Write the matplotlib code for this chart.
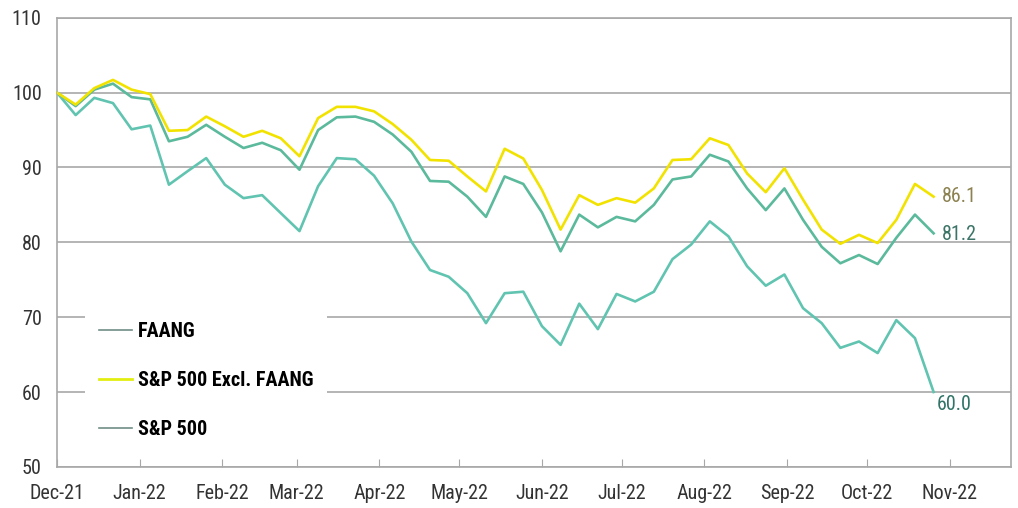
import numpy as np
import matplotlib
matplotlib.use("Agg")
import matplotlib.pyplot as plt
from matplotlib.lines import Line2D

plt.rcParams['font.family'] = ['Roboto Condensed', 'Archivo Narrow', 'DejaVu Sans']

start = np.datetime64('2021-12-01')
n_weeks = 48
dates = start + np.arange(n_weeks) * np.timedelta64(7, 'D')

sp_ex_faang = [100.0, 98.4, 100.6, 101.7, 100.4, 99.8, 94.9, 95.0, 96.8, 95.5,
               94.1, 94.9, 93.9, 91.5, 96.6, 98.1, 98.1, 97.5, 95.8, 93.7,
               91.0, 90.9, 88.8, 86.8, 92.5, 91.2, 87.0, 81.7, 86.3, 85.0,
               85.9, 85.3, 87.2, 91.0, 91.1, 93.9, 93.0, 89.2, 86.7, 89.9,
               85.7, 81.7, 79.8, 81.0, 79.9, 83.0, 87.8, 86.1]
sp500 = [100.0, 98.2, 100.4, 101.2, 99.4, 99.1, 93.5, 94.1, 95.7, 94.1,
         92.6, 93.3, 92.3, 89.7, 95.0, 96.7, 96.8, 96.1, 94.4, 92.1,
         88.2, 88.1, 86.1, 83.4, 88.8, 87.8, 84.0, 78.8, 83.7, 82.0,
         83.4, 82.8, 85.0, 88.4, 88.8, 91.7, 90.8, 87.2, 84.3, 87.2,
         83.0, 79.4, 77.2, 78.3, 77.1, 80.6, 83.7, 81.2]
faang = [100.0, 97.0, 99.3, 98.6, 95.1, 95.6, 87.7, 89.5, 91.25, 87.7,
         85.9, 86.3, 83.9, 81.5, 87.5, 91.25, 91.1, 88.9, 85.2, 80.1,
         76.3, 75.4, 73.2, 69.2, 73.2, 73.4, 68.8, 66.3, 71.8, 68.4,
         73.1, 72.1, 73.4, 77.75, 79.7, 82.8, 80.8, 76.8, 74.2, 75.7,
         71.2, 69.2, 65.9, 66.75, 65.2, 69.6, 67.2, 60.0]

tick_dates = np.arange(np.datetime64('2021-12'), np.datetime64('2022-12'),
                       np.timedelta64(1, 'M')).astype('datetime64[D]')
tick_labels = ['Dec-21', 'Jan-22', 'Feb-22', 'Mar-22', 'Apr-22', 'May-22',
               'Jun-22', 'Jul-22', 'Aug-22', 'Sep-22', 'Oct-22', 'Nov-22']
y_ticks = [50, 60, 70, 80, 90, 100, 110]

c_yellow = '#F2E200'
c_sp = '#5BB99C'
c_faang = '#60C4B0'

fig = plt.figure(figsize=(10.18, 5.08), dpi=100)
ax = fig.add_axes([0.056, 0.081, 0.937, 0.884])

ax.plot(dates, faang, color=c_faang, lw=1.9, zorder=3)
ax.plot(dates, sp500, color=c_sp, lw=1.9, zorder=4)
ax.plot(dates, sp_ex_faang, color=c_yellow, lw=1.9, zorder=5)

ax.set_ylim(50, 110)
ax.set_yticks(y_ticks)
ax.set_xlim(np.datetime64('2021-12-01'), np.datetime64('2022-11-24'))
ax.set_xticks(tick_dates)
ax.set_xticklabels(tick_labels)

ax.grid(axis='y', color='#a8a8a8', lw=1.2, zorder=1)
ax.set_axisbelow(True)
for s in ax.spines.values():
    s.set_color('#a8a8a8')
    s.set_linewidth(1.2)

ax.tick_params(axis='y', length=0, pad=11, labelsize=14.5, labelcolor='#333333')
ax.tick_params(axis='x', direction='in', length=6, color='#a8a8a8', pad=12,
               labelsize=14.5, labelcolor='#333333')

ax.annotate(f'{sp_ex_faang[-1]:.1f}', (dates[-1], sp_ex_faang[-1]),
            xytext=(6, 0), textcoords='offset points', va='center', ha='left',
            fontsize=14.5, color='#8C8150')
ax.annotate(f'{sp500[-1]:.1f}', (dates[-1], sp500[-1]),
            xytext=(6, -1), textcoords='offset points', va='center', ha='left',
            fontsize=14.5, color='#3D7468')
ax.annotate(f'{faang[-1]:.1f}', (dates[-1], faang[-1]),
            xytext=(2, -9), textcoords='offset points', va='center', ha='left',
            fontsize=14.5, color='#2F7467')

handles = [Line2D([], [], color='#6F8F86', lw=1.2),
           Line2D([], [], color='#E2EE10', lw=2.0),
           Line2D([], [], color='#6F8F86', lw=1.2)]
labels = ['FAANG', 'S&P 500 Excl. FAANG', 'S&P 500']
leg = ax.legend(handles, labels, loc='lower left', bbox_to_anchor=(0.019, 0.008),
                frameon=True, facecolor='white', edgecolor='none', framealpha=1,
                prop={'weight': 'bold', 'size': 14.5}, handlelength=1.6,
                handletextpad=0.3, labelspacing=1.5, borderpad=0.7)
leg.set_zorder(6)

fig.savefig('out.png', dpi=100)
